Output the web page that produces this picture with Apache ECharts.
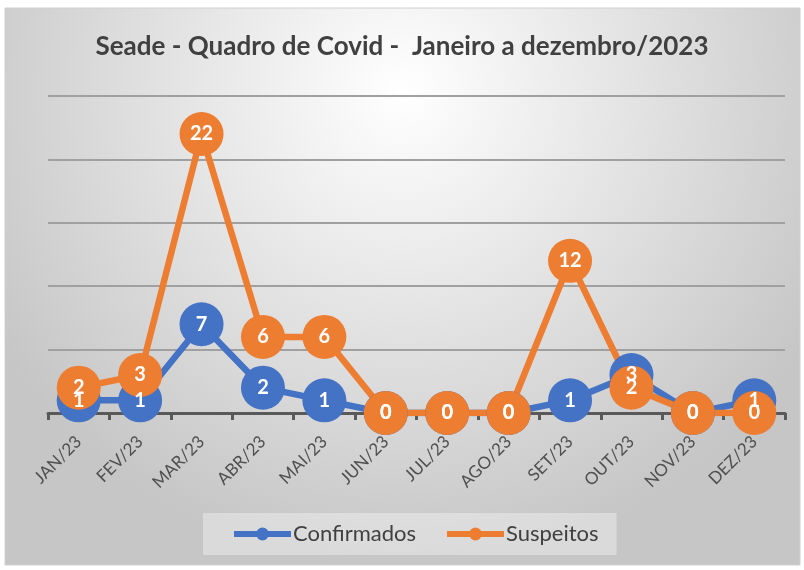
<!DOCTYPE html>
<html>
<head>
<meta charset="utf-8">
<script src="https://cdn.jsdelivr.net/npm/echarts@6/dist/echarts.min.js"></script>
<style>
  html, body { margin: 0; padding: 0; background: #fff; }
  #chart { width: 804px; height: 570px; }
</style>
</head>
<body>
<div id="chart"></div>
<script>
var months = ['JAN/23', 'FEV/23', 'MAR/23', 'ABR/23', 'MAI/23', 'JUN/23', 'JUL/23', 'AGO/23', 'SET/23', 'OUT/23', 'NOV/23', 'DEZ/23'];
var confirmados = [1, 1, 7, 2, 1, 0, 0, 0, 1, 3, 0, 1];
var suspeitos = [2, 3, 22, 6, 6, 0, 0, 0, 12, 2, 0, 0];

var chart = echarts.init(document.getElementById('chart'));

var dotLabel = {
  show: true,
  position: 'inside',
  color: '#fff',
  fontFamily: 'Lato',
  fontWeight: 'bold',
  fontSize: 20
};

var option = {
  animation: false,
  color: ['#4472C4', '#ED7D31'],
  graphic: [{
    type: 'rect',
    z: -10,
    silent: true,
    shape: { x: 5, y: 8, width: 795, height: 557 },
    style: {
      fill: new echarts.graphic.RadialGradient(0.5, 0.15, 0.85, [
        { offset: 0, color: '#ffffff' },
        { offset: 1, color: '#c6c6c6' }
      ]),
      stroke: '#d0d0d0',
      lineWidth: 1
    }
  }],
  title: {
    text: 'Seade - Quadro de Covid -  Janeiro a dezembro/2023',
    left: 'center',
    top: 29,
    textStyle: {
      fontFamily: 'Lato',
      fontWeight: 'bold',
      fontSize: 26,
      color: '#404040'
    }
  },
  legend: {
    left: 203,
    top: 513,
    padding: [10, 18, 10, 28],
    backgroundColor: 'rgba(255,255,255,0.35)',
    itemWidth: 57,
    itemHeight: 16,
    itemGap: 28,
    lineStyle: { width: 6 },
    textStyle: { fontFamily: 'Lato', fontSize: 22, color: '#404040', padding: [0, 0, 0, -3] },
    data: ['Confirmados', 'Suspeitos']
  },
  grid: { left: 48, right: 19, top: 96, bottom: 157 },
  xAxis: {
    type: 'category',
    data: months,
    boundaryGap: true,
    axisLine: { lineStyle: { color: '#595959', width: 3 } },
    axisTick: { show: true, length: 7, lineStyle: { color: '#595959', width: 3 } },
    axisLabel: {
      rotate: 45,
      margin: 26,
      fontFamily: 'Lato',
      fontSize: 17,
      color: '#505050'
    }
  },
  yAxis: {
    type: 'value',
    min: 0,
    max: 25,
    interval: 5,
    axisLabel: { show: false },
    axisLine: { show: false },
    axisTick: { show: false },
    splitLine: { lineStyle: { color: '#a0a0a0', width: 2 } }
  },
  series: [
    {
      name: 'Confirmados',
      type: 'line',
      data: confirmados,
      symbol: 'circle',
      symbolSize: 44,
      lineStyle: { width: 6.5 },
      label: dotLabel
    },
    {
      name: 'Suspeitos',
      type: 'line',
      data: suspeitos,
      symbol: 'circle',
      symbolSize: 44,
      lineStyle: { width: 6.5 },
      label: dotLabel
    }
  ]
};

chart.setOption(option);
</script>
</body>
</html>
